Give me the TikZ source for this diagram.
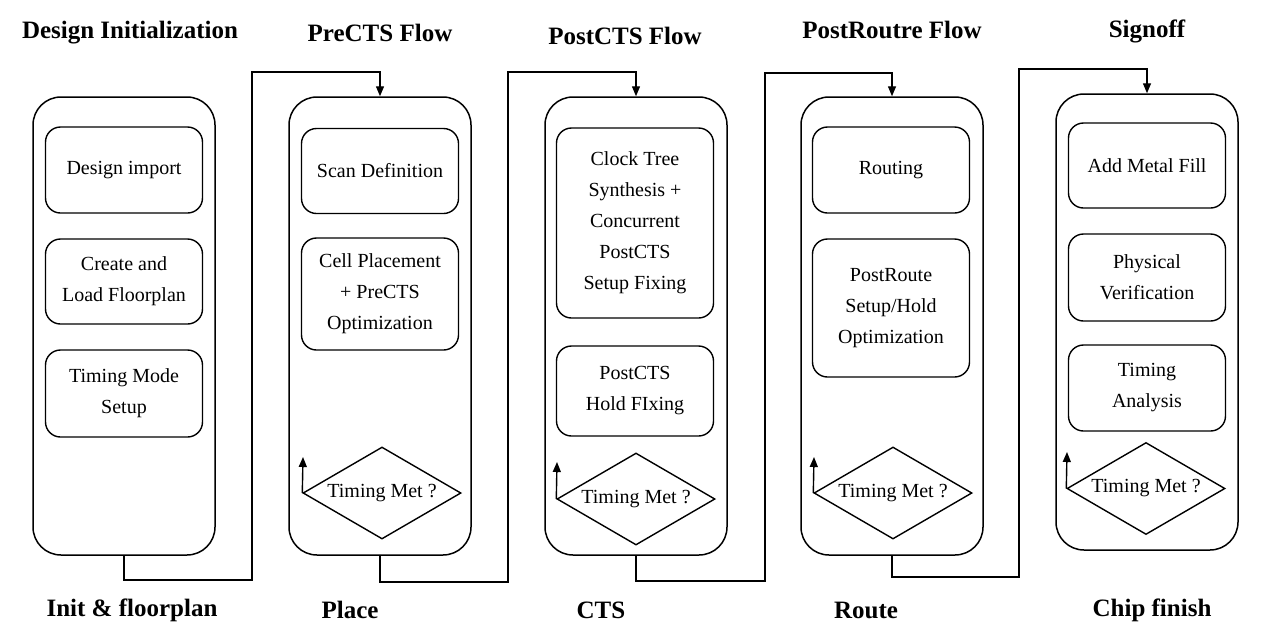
\documentclass[tikz,border=0pt]{standalone}
\usepackage{fontspec}
\setmainfont{Liberation Serif}
\usetikzlibrary{positioning}
\usetikzlibrary{shapes}
\usetikzlibrary{arrows.meta}

\tikzset{
	stageBox/.style={rectangle, rounded corners=28pt, draw=black, line width=1.5pt, minimum width=182pt},
	stepBox/.style={rectangle, rounded corners=15pt, draw=black, line width=1.4pt, minimum width=157pt, align=center, font=\fontsize{20}{31}\selectfont},
	checkBox/.style={diamond, draw=black, line width=1.4pt, aspect=1.72, inner sep=0pt, minimum width=158pt, minimum height=92pt, font=\fontsize{20}{24}\selectfont},
	stageTitle/.style={font=\fontsize{25}{30}\selectfont\bfseries},
	flowLine/.style={-{Triangle[length=10pt,width=8pt]}, line width=1.4pt}
}

\begin{document}
\begin{tikzpicture}[x=1pt, y=-1pt]
		\useasboundingbox (0,0) rectangle (1269,638);

		% stage titles
		\node[stageTitle](initTop) at (130,33){Design Initialization};
		\node[stageTitle](placeTop) at (380,33){PreCTS Flow};
		\node[stageTitle](ctsTop) at (625,36){PostCTS Flow};
		\node[stageTitle](routeTop) at (892,30){PostRoutre Flow};
		\node[stageTitle](signTop) at (1147,31){Signoff};

		\node[stageTitle](initBottom) at (132,610){Init \& floorplan};
		\node[stageTitle](placeBottom) at (350,610){Place};
		\node[stageTitle](ctsBottom) at (601,610){CTS};
		\node[stageTitle](routeBottom) at (866,610){Route};
		\node[stageTitle](signBottom) at (1152,610){Chip finish};

		% stage boxes
		\node[stageBox, minimum height=458pt](col1Box) at (124,326){};
		\node[stageBox, minimum height=458pt](col2Box) at (380,326){};
		\node[stageBox, minimum height=458pt](col3Box) at (636,326){};
		\node[stageBox, minimum height=458pt](col4Box) at (892,326){};
		\node[stageBox, minimum height=456pt](col5Box) at (1147,322){};

		% design initialization steps
		\node[stepBox, minimum height=86pt](importBox) at (124,170){Design import};
		\node[stepBox, minimum height=85pt](floorplanBox) at (124,281.5){Create and\\Load Floorplan};
		\node[stepBox, minimum height=87pt](modeBox) at (124,393.5){Timing Mode\\Setup};

		% prects steps
		\node[stepBox, minimum height=85pt](scanBox) at (380,171){Scan Definition};
		\node[stepBox, minimum height=112pt](placementBox) at (380,294){Cell Placement\\+ PreCTS\\Optimization};
		\node[checkBox](check2) at (382,493){Timing Met ?};

		% postcts steps
		\node[stepBox, minimum height=190pt](treeBox) at (635,223){Clock Tree\\Synthesis +\\Concurrent\\PostCTS\\Setup Fixing};
		\node[stepBox, minimum height=90pt](holdBox) at (635,391){PostCTS\\Hold FIxing};
		\node[checkBox](check3) at (636,499){Timing Met ?};

		% postroute steps
		\node[stepBox, minimum height=86pt](routingBox) at (891,170){Routing};
		\node[stepBox, minimum height=138pt](postrouteBox) at (891,308){PostRoute\\Setup/Hold\\Optimization};
		\node[checkBox](check4) at (893,493){Timing Met ?};

		% signoff steps
		\node[stepBox, minimum height=85pt](metalBox) at (1147,165.5){Add Metal Fill};
		\node[stepBox, minimum height=87pt](physicalBox) at (1147,277.5){Physical\\Verification};
		\node[stepBox, minimum height=86pt](analysisBox) at (1147,388){Timing\\Analysis};
		\node[checkBox](check5) at (1146,488.5){Timing Met ?};

		% loop back ends
		\coordinate (loop2) at (303,457);
		\coordinate (loop3) at (557,462);
		\coordinate (loop4) at (814,457);
		\coordinate (loop5) at (1067,452);

		% turning points between stages
		\coordinate (g1Bot) at (252,580);
		\coordinate (g1Top) at (252,72);
		\coordinate (g2Bot) at (508,582);
		\coordinate (g2Top) at (508,72);
		\coordinate (g3Bot) at (765,581);
		\coordinate (g3Top) at (765,73);
		\coordinate (g4Bot) at (1019,577);
		\coordinate (g4Top) at (1019,69);

		% draw loop edges
		\draw[flowLine] (check2.west) -- (loop2);
		\draw[flowLine] (check3.west) -- (loop3);
		\draw[flowLine] (check4.west) -- (loop4);
		\draw[flowLine] (check5.west) -- (loop5);

		% draw stage edges
		\draw[flowLine] (col1Box.south) |- (g1Bot) -- (g1Top) -| (col2Box.north);
		\draw[flowLine] (col2Box.south) |- (g2Bot) -- (g2Top) -| (col3Box.north);
		\draw[flowLine] (col3Box.south) |- (g3Bot) -- (g3Top) -| (col4Box.north);
		\draw[flowLine] (col4Box.south) |- (g4Bot) -- (g4Top) -| (col5Box.north);

	\end{tikzpicture}
\end{document}
